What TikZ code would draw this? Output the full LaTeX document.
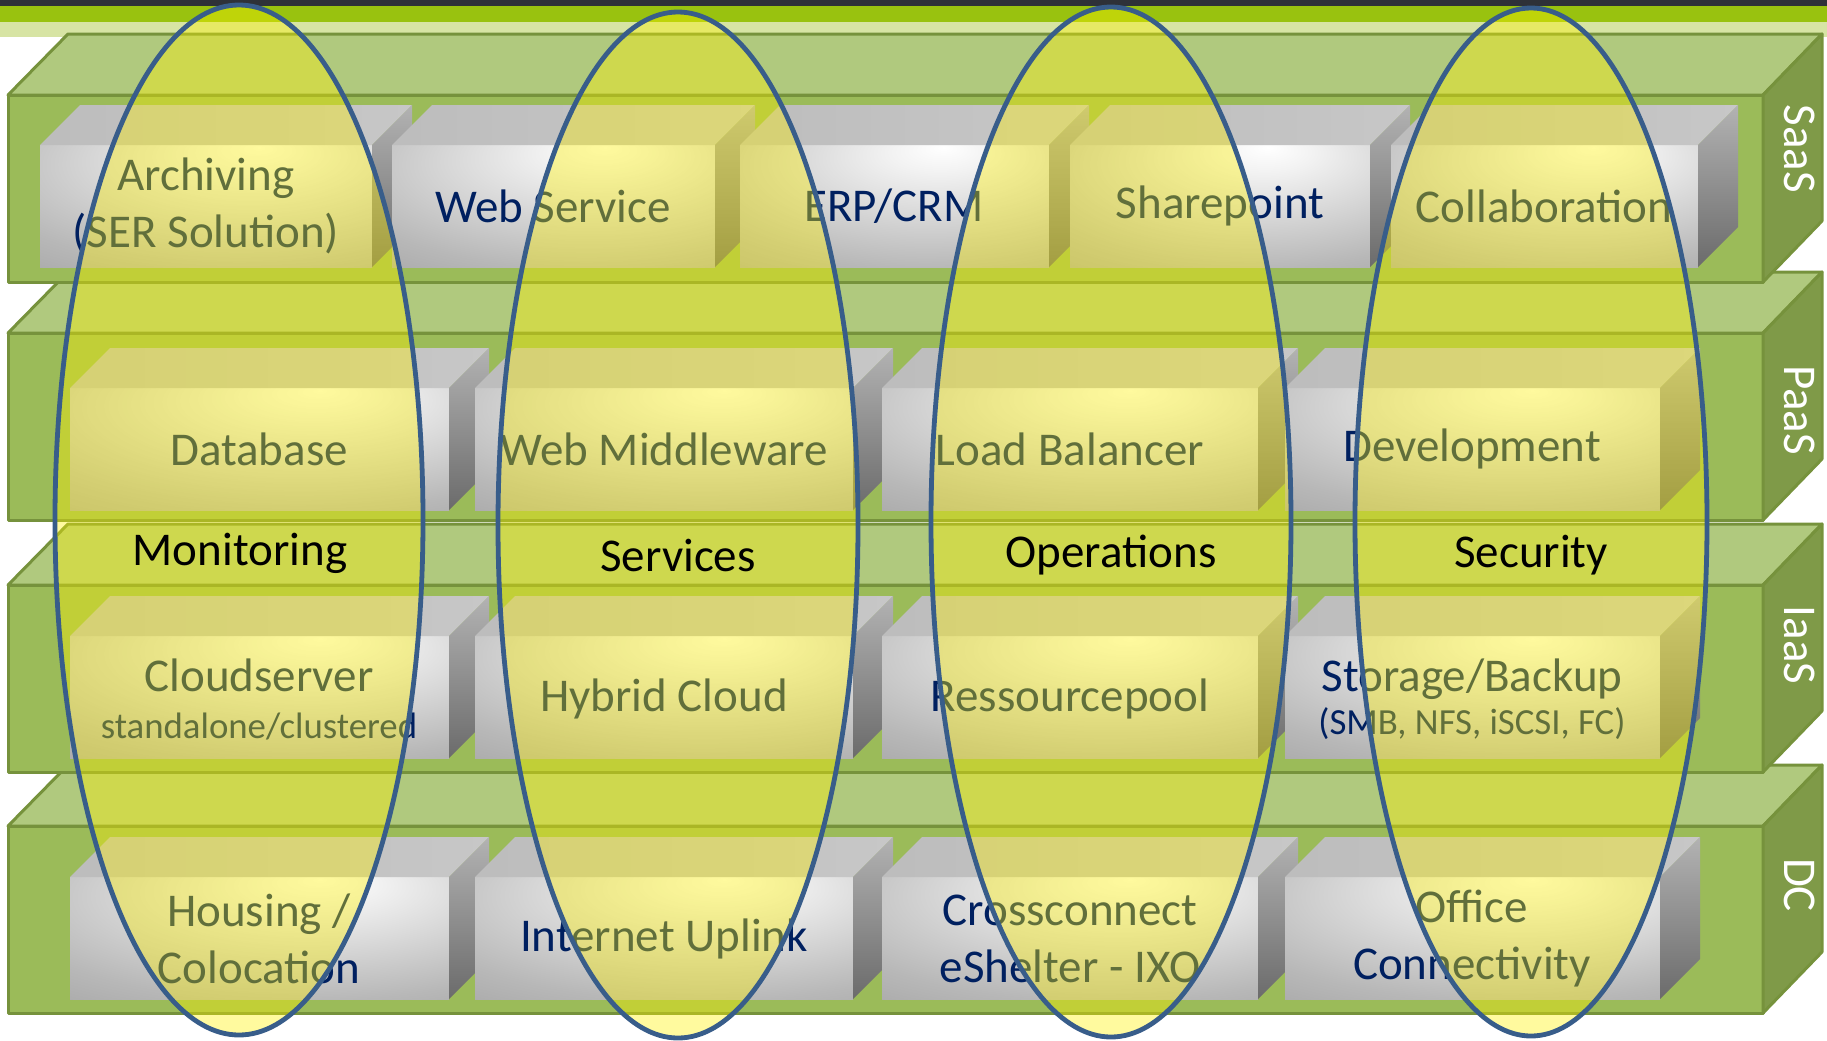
\documentclass[tikz,border=0pt]{standalone}
\usepackage{fontspec}
\setmainfont{Carlito}
\usepackage{xcolor}

\definecolor{layerfront}{HTML}{9BBB59}
\definecolor{layertop}{HTML}{B0C97E}
\definecolor{layerside}{HTML}{7F9A48}
\definecolor{layerline}{HTML}{76923C}
\definecolor{boxtext}{HTML}{002060}
\definecolor{ringline}{HTML}{385D8A}
\definecolor{topbar}{HTML}{2E3138}
\definecolor{topgreen}{HTML}{99C20F}
\definecolor{toplight}{HTML}{D7E4A4}

\pgfdeclareradialshading{boxfront}{\pgfpoint{8bp}{24bp}}{color(0bp)=(white); color(8bp)=(black!5); color(40bp)=(black!28); color(70bp)=(black!44); color(100bp)=(black!48)}
\newcommand\subline{\fontsize{18.4}{22}\selectfont}

\begin{document}
\begin{tikzpicture}[x=0.5pt, y=-0.5pt,
	layerface/.style={draw=layerline, line width=1.5pt, line join=round},
	boxface/.style={line join=round},
	boxlabel/.style={text=boxtext, align=center, font=\fontsize{23.5}{28.5}\selectfont},
	layerlabel/.style={text=white, rotate=-90, font=\fontsize{23.5}{28.5}\selectfont},
	grouplabel/.style={text=black, anchor=base, font=\fontsize{23.5}{28.5}\selectfont},
	ring/.style={draw=ringline, line width=2.4pt, fill=yellow, fill opacity=0.38}]
	\useasboundingbox (0,0) rectangle (1827,1040);
	% top strips
	\fill[topbar] (0,0) rectangle (1827,6);
	\fill[topgreen] (0,6) rectangle (1827,22);
	\fill[toplight] (0,22) rectangle (1827,37);
	% lower layers, bottom first
	\foreach \lt/\bt/\lab/\ly in {826/877/DC/885, 585/636/IaaS/645, 333/388/PaaS/410} {
		\draw[layerface, fill=layertop] (8,\lt) -- (68,\lt-61) -- (1822,\lt-61) -- (1763,\lt) -- cycle;
		\draw[layerface, fill=layerfront] (8,\lt) rectangle (1763,\lt+187);
		\draw[layerface, fill=layerside] (1763,\lt) -- (1822,\lt-61) -- (1822,\lt+126) -- (1763,\lt+187) -- cycle;
		\node[layerlabel] (\lab) at (1800,\ly) {\lab};
		\foreach \xa/\xb in {70/449, 475/853, 882/1258, 1285/1660} {
			\shade[boxface, shading=boxfront] (\xa,\bt) rectangle (\xb,\bt+122);
			\shade[boxface, left color=black!26, middle color=white, right color=black!22] (\xa,\bt) -- (\xa+40,\bt-40) -- (\xb+40,\bt-40) -- (\xb,\bt) -- cycle;
			\shade[boxface, top color=black!30, bottom color=black!58] (\xb,\bt) -- (\xb+40,\bt-40) -- (\xb+40,\bt+82) -- (\xb,\bt+122) -- cycle;
		}
	}
	% SaaS layer
	\draw[layerface, fill=layertop] (8,95) -- (68,34) -- (1822,34) -- (1763,95) -- cycle;
	\draw[layerface, fill=layerfront] (8,95) rectangle (1763,282);
	\draw[layerface, fill=layerside] (1763,95) -- (1822,34) -- (1822,221) -- (1763,282) -- cycle;
	\node[layerlabel] (SaaS) at (1800,149) {SaaS};
	\foreach \xa/\xb in {40/372, 392/715, 740/1049, 1070/1370, 1391/1698} {
		\shade[boxface, shading=boxfront] (\xa,145) rectangle (\xb,267);
		\shade[boxface, left color=black!26, middle color=white, right color=black!22] (\xa,145) -- (\xa+40,105) -- (\xb+40,105) -- (\xb,145) -- cycle;
		\shade[boxface, top color=black!30, bottom color=black!58] (\xb,145) -- (\xb+40,105) -- (\xb+40,227) -- (\xb,267) -- cycle;
	}
	% box texts
	\node[boxlabel] (archiving) at (206,206) {Archiving\\(SER Solution)};
	\node[boxlabel] (websvc) at (553,206) {Web Service};
	\node[boxlabel] (erp) at (894,206) {ERP/CRM};
	\node[boxlabel] (sharepoint) at (1220,206) {Sharepoint};
	\node[boxlabel] (collab) at (1544,206) {Collaboration};
	\node[boxlabel] (database) at (259,449) {Database};
	\node[boxlabel] (middleware) at (664,449) {Web Middleware};
	\node[boxlabel] (balancer) at (1070,449) {Load Balancer};
	\node[boxlabel] (develop) at (1472,449) {Development};
	\node[boxlabel] (cloudsrv) at (259,699) {Cloudserver\\[-5pt]{\subline standalone/clustered}};
	\node[boxlabel] (hybrid) at (664,699) {Hybrid Cloud};
	\node[boxlabel] (respool) at (1070,699) {Ressourcepool};
	\node[boxlabel] (storage) at (1472,699) {Storage/Backup\\[-7pt]{\subline (SMB, NFS, iSCSI, FC)}};
	\node[boxlabel] (housing) at (259,939) {Housing /\\Colocation};
	\node[boxlabel] (uplink) at (664,939) {Internet Uplink};
	\node[boxlabel] (xconnect) at (1070,939) {Crossconnect\\eShelter - IXO};
	\node[boxlabel] (office) at (1472,939) {Office\\Connectivity};
	% cross-cutting rings
	\draw[ring] (239,520) ellipse [x radius=184, y radius=515];
	\draw[ring] (678,525) ellipse [x radius=180, y radius=513];
	\draw[ring] (1111,522) ellipse [x radius=180, y radius=515];
	\draw[ring] (1531,522) ellipse [x radius=176, y radius=514];
	\node[grouplabel] (monitoring) at (240,565) {Monitoring};
	\node[grouplabel] (services) at (678,571) {Services};
	\node[grouplabel] (operations) at (1111,567) {Operations};
	\node[grouplabel] (security) at (1531,567) {Security};
\end{tikzpicture}
\end{document}
